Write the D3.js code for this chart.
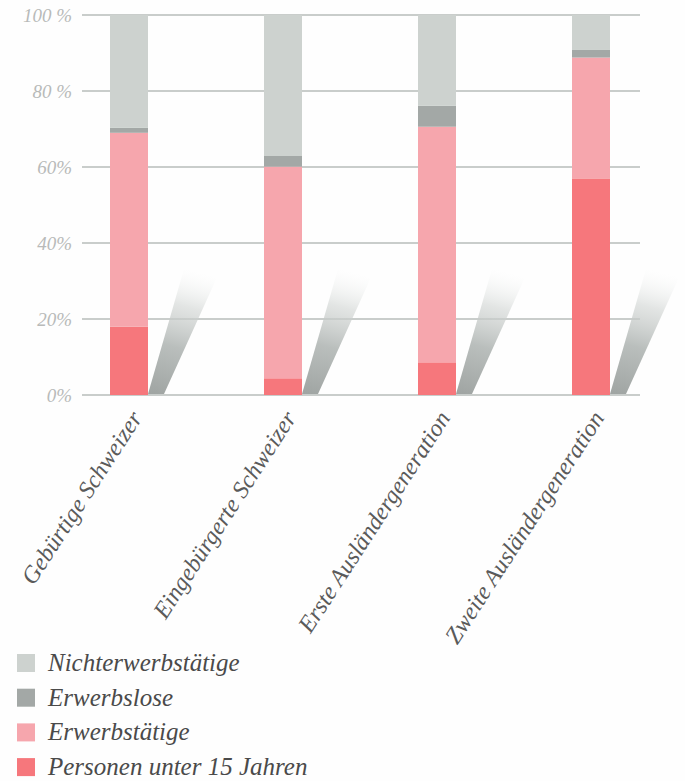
<!DOCTYPE html>
<html>
<head>
<meta charset="utf-8">
<script src="https://cdn.jsdelivr.net/npm/d3@7"></script>
<style>
  html, body { margin: 0; padding: 0; background: #fefefe; }
  svg { display: block; }
</style>
</head>
<body>
<svg id="chart" width="685" height="781"></svg>
<script>
// ---- data ----
const categories = ["Gebürtige Schweizer", "Eingebürgerte Schweizer", "Erste Ausländergeneration", "Zweite Ausländergeneration"];
const seriesNames = ["Personen unter 15 Jahren", "Erwerbstätige", "Erwerbslose", "Nichterwerbstätige"];
const personenUnter15 = [18, 4.4, 8.6, 57];
const erwerbstaetige = [51, 55.7, 62, 31.8];
const erwerbslose = [1.3, 2.8, 5.5, 2];
const nichterwerbstaetige = [29.7, 37.1, 23.9, 9.2];
const yTickValues = [0, 20, 40, 60, 80, 100];
const yTickLabels = ["0%", "20%", "40%", "60%", "80 %", "100 %"];
const seriesColors = ["#f6777c", "#f6a6ad", "#a3a8a6", "#cdd2cf"];

// ---- build table ----
const table = categories.map((c, i) => ({
  cat: c,
  [seriesNames[0]]: personenUnter15[i],
  [seriesNames[1]]: erwerbstaetige[i],
  [seriesNames[2]]: erwerbslose[i],
  [seriesNames[3]]: nichterwerbstaetige[i]
}));
const stacked = d3.stack().keys(seriesNames)(table);

const svg = d3.select("#chart");
const serif = "Liberation Serif, Times New Roman, DejaVu Serif, serif";
const gridLeft = 82, gridRight = 640;
const y = d3.scaleLinear().domain([0, 100]).range([395, 15]);
const x = d3.scalePoint().domain(categories).range([129, 591]);
const barW = 38;
const color = d3.scaleOrdinal().domain(seriesNames).range(seriesColors);

// gradient for shadows (fading upward)
const defs = svg.append("defs");
const grad = defs.append("linearGradient").attr("id", "shadowGrad")
  .attr("x1", 0).attr("y1", 1).attr("x2", 0.15).attr("y2", 0);
grad.append("stop").attr("offset", 0).attr("stop-color", "#9fa4a2").attr("stop-opacity", 1);
grad.append("stop").attr("offset", 0.4).attr("stop-color", "#b6bbb9").attr("stop-opacity", 0.95);
grad.append("stop").attr("offset", 0.72).attr("stop-color", "#d0d4d2").attr("stop-opacity", 0.6);
grad.append("stop").attr("offset", 1).attr("stop-color", "#f0f2f1").attr("stop-opacity", 0);

// gridlines
svg.append("g").selectAll("line").data(yTickValues).join("line")
  .attr("x1", gridLeft).attr("x2", gridRight)
  .attr("y1", d => y(d)).attr("y2", d => y(d))
  .attr("stroke", "#c9cdcb").attr("stroke-width", 2);

// y axis labels via axis
const yAxis = d3.axisLeft(y).tickValues(yTickValues)
  .tickFormat((d, i) => yTickLabels[i]).tickSize(0).tickPadding(0);
const yg = svg.append("g").attr("transform", "translate(72,0)").call(yAxis);
yg.select(".domain").remove();
yg.selectAll("text")
  .style("font-family", serif)
  .style("font-style", "italic")
  .style("font-size", "19px")
  .attr("fill", "#b8bab9");

// shadows
svg.append("g").selectAll("path").data(categories).join("path")
  .attr("d", c => {
    const xr = x(c) + barW / 2, y0 = y(0) - 1;
    return `M${xr},${y0} L${xr + 16},${y0} L${xr + 76},${y0 - 132} L${xr + 38},${y0 - 132} Z`;
  })
  .attr("fill", "url(#shadowGrad)");

// bars
svg.append("g").selectAll("g").data(stacked).join("g")
  .attr("fill", d => color(d.key))
  .selectAll("rect").data(d => d).join("rect")
  .attr("x", d => x(d.data.cat) - barW / 2)
  .attr("width", barW)
  .attr("y", d => y(d[1]))
  .attr("height", d => y(d[0]) - y(d[1]));

// x labels
svg.append("g").selectAll("text").data(categories).join("text")
  .attr("transform", c => `translate(${x(c) + 14},${418}) rotate(-57)`)
  .attr("text-anchor", "end")
  .style("font-family", serif)
  .style("font-style", "italic")
  .style("font-size", "24px")
  .attr("fill", "#5a5a5a")
  .text(c => c);

// legend
const legendOrder = seriesNames.slice().reverse();
const lg = svg.append("g").selectAll("g").data(legendOrder).join("g")
  .attr("transform", (d, i) => `translate(17,${671 + i * 34.7})`);
lg.append("rect").attr("x", 0).attr("y", -17).attr("width", 18).attr("height", 18)
  .attr("fill", d => color(d));
lg.append("text").attr("x", 31).attr("y", 0)
  .style("font-family", serif)
  .style("font-style", "italic")
  .style("font-size", "25px")
  .attr("fill", "#4a4a4a")
  .text(d => d);
</script>
</body>
</html>
